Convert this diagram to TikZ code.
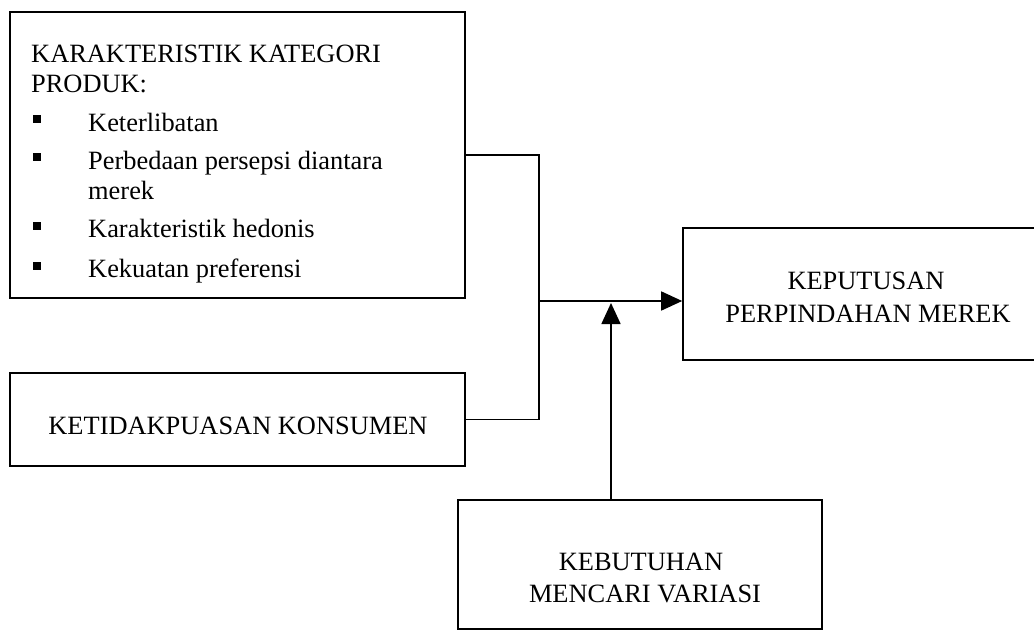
\documentclass[tikz,border=0pt]{standalone}
\usepackage{fontspec}
\setmainfont{Liberation Serif}
\usetikzlibrary{arrows.meta}
\begin{document}
\begin{tikzpicture}[x=1pt,y=-1pt,
  box/.style={draw,line width=1.6pt,inner sep=0pt},
  txt/.style={inner sep=0pt,anchor=base west,font=\fontsize{26.4}{32}\selectfont},
  ctxt/.style={inner sep=0pt,anchor=base,font=\fontsize{26.4}{32}\selectfont},
  bul/.style={fill,inner sep=0pt,minimum size=7.5pt},
  conn/.style={line width=1.6pt},
  arr/.style={conn,-{Triangle[length=21pt,width=19pt]}}]
\useasboundingbox (0,0) rectangle (1034,631);
\clip (0,0) rectangle (1034,631);
% boxes
\node[box,minimum width=455pt,minimum height=286pt] (box1) at (237.5,155) {};
\node[box,minimum width=455pt,minimum height=93pt] (box2) at (237.5,419.5) {};
\node[box,minimum width=368pt,minimum height=132pt] (box3) at (867,294) {};
\node[box,minimum width=364pt,minimum height=129pt] (box4) at (640,564.5) {};
% box 1 text
\node[txt] (t1a) at (31,63) {KARAKTERISTIK KATEGORI};
\node[txt] (t1b) at (31,93) {PRODUK:};
\node[bul] (bu1) at (37,119) {};
\node[txt] (i1) at (88,132) {Keterlibatan};
\node[bul] (bu2) at (37,157) {};
\node[txt] (i2) at (88,170) {Perbedaan persepsi diantara};
\node[txt] (i2b) at (88,200) {merek};
\node[bul] (bu3) at (37,226) {};
\node[txt] (i3) at (88,238) {Karakteristik hedonis};
\node[bul] (bu4) at (37,266) {};
\node[txt] (i4) at (88,277) {Kekuatan preferensi};
% other texts
\node[ctxt] (t2) at (238,434) {KETIDAKPUASAN KONSUMEN};
\node[ctxt] (t3a) at (866,290) {KEPUTUSAN};
\node[ctxt] (t3b) at (868,322) {PERPINDAHAN MEREK};
\node[ctxt] (t4a) at (641,570) {KEBUTUHAN};
\node[ctxt] (t4b) at (645,602) {MENCARI VARIASI};
% connectors
\coordinate (jm) at (539,301);
\coordinate (vx) at (611,303);
\draw[conn] (box1.east) -| (jm) |- (box2.east);
\draw[arr] (jm) -- (box3.west |- jm);
\draw[arr] (box4.north -| vx) -- (vx);
\end{tikzpicture}
\end{document}
